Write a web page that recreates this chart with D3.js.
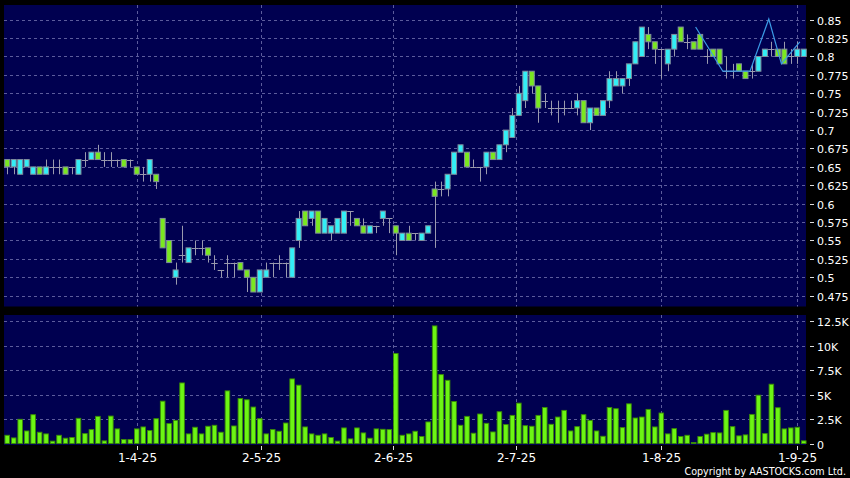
<!DOCTYPE html>
<html><head><meta charset="utf-8">
<script src="https://cdn.jsdelivr.net/npm/d3@7"></script>
<style>html,body{margin:0;padding:0;background:#000;}svg{display:block;}</style>
</head><body>
<svg id="c" width="850" height="478"></svg>
<script>
const openP  = [0.66,0.65,0.64,0.65,0.64,0.65,0.64,0.65,0.65,0.65,0.65,0.64,0.66,0.66,0.67,0.66,0.66,0.66,0.66,0.66,
0.65,0.64,0.64,0.64,0.58,0.55,0.50,0.53,0.52,0.54,0.54,0.54,0.52,0.51,0.52,0.52,0.52,0.51,0.50,0.48,
0.50,0.52,0.52,0.52,0.50,0.55,0.59,0.58,0.59,0.56,0.56,0.56,0.56,0.59,0.58,0.57,0.56,0.57,0.58,0.58,
0.57,0.55,0.56,0.56,0.55,0.56,0.62,0.62,0.62,0.64,0.67,0.67,0.65,0.65,0.65,0.67,0.66,0.68,0.69,0.72,
0.74,0.78,0.76,0.74,0.73,0.73,0.73,0.73,0.73,0.74,0.71,0.73,0.72,0.74,0.76,0.76,0.77,0.79,0.80,0.83,
0.82,0.81,0.79,0.81,0.84,0.82,0.82,0.83,0.80,0.81,0.81,0.78,0.78,0.79,0.78,0.78,0.78,0.80,0.81,0.81,
0.81,0.80,0.80,0.80];
const highP  = [0.66,0.66,0.66,0.66,0.65,0.65,0.66,0.66,0.66,0.65,0.65,0.66,0.67,0.67,0.68,0.67,0.67,0.66,0.66,0.66,
0.65,0.65,0.66,0.64,0.58,0.55,0.52,0.57,0.54,0.55,0.55,0.54,0.53,0.51,0.53,0.52,0.52,0.51,0.50,0.51,
0.52,0.52,0.53,0.52,0.54,0.59,0.59,0.59,0.59,0.58,0.57,0.58,0.59,0.59,0.58,0.58,0.57,0.57,0.59,0.58,
0.57,0.56,0.57,0.56,0.56,0.57,0.63,0.63,0.64,0.67,0.68,0.67,0.66,0.65,0.67,0.67,0.68,0.70,0.73,0.76,
0.78,0.78,0.76,0.75,0.74,0.74,0.74,0.74,0.75,0.74,0.73,0.73,0.74,0.78,0.78,0.77,0.79,0.82,0.84,0.84,
0.82,0.81,0.81,0.83,0.84,0.83,0.82,0.83,0.81,0.81,0.81,0.80,0.79,0.79,0.78,0.79,0.80,0.81,0.82,0.81,
0.82,0.81,0.82,0.81];
const lowP   = [0.64,0.64,0.64,0.65,0.64,0.64,0.64,0.64,0.64,0.64,0.64,0.64,0.65,0.66,0.66,0.65,0.65,0.65,0.65,0.65,
0.64,0.63,0.63,0.62,0.54,0.52,0.49,0.52,0.52,0.53,0.53,0.52,0.51,0.50,0.50,0.50,0.51,0.48,0.48,0.48,
0.50,0.50,0.51,0.50,0.50,0.54,0.57,0.57,0.56,0.56,0.55,0.56,0.56,0.57,0.57,0.56,0.56,0.56,0.57,0.56,
0.53,0.55,0.55,0.55,0.55,0.56,0.54,0.61,0.61,0.64,0.67,0.65,0.65,0.63,0.64,0.66,0.66,0.67,0.69,0.72,
0.73,0.75,0.71,0.73,0.72,0.71,0.72,0.73,0.72,0.71,0.70,0.72,0.72,0.73,0.76,0.75,0.76,0.79,0.80,0.81,
0.79,0.77,0.78,0.80,0.82,0.81,0.81,0.81,0.79,0.80,0.79,0.77,0.77,0.78,0.77,0.77,0.78,0.80,0.80,0.80,
0.79,0.79,0.79,0.80];
const closeP = [0.65,0.66,0.66,0.66,0.65,0.64,0.65,0.65,0.65,0.64,0.65,0.66,0.66,0.67,0.66,0.66,0.66,0.66,0.65,0.66,
0.64,0.64,0.66,0.63,0.54,0.52,0.51,0.53,0.54,0.54,0.54,0.53,0.52,0.51,0.52,0.52,0.51,0.50,0.48,0.51,
0.51,0.52,0.52,0.52,0.54,0.58,0.57,0.59,0.56,0.58,0.57,0.58,0.59,0.59,0.57,0.56,0.57,0.57,0.59,0.58,
0.56,0.56,0.55,0.56,0.56,0.57,0.61,0.62,0.64,0.67,0.68,0.65,0.65,0.65,0.67,0.66,0.68,0.70,0.72,0.75,
0.78,0.76,0.73,0.74,0.73,0.73,0.73,0.73,0.74,0.71,0.73,0.72,0.74,0.77,0.77,0.77,0.79,0.82,0.84,0.82,
0.81,0.81,0.81,0.83,0.82,0.82,0.81,0.81,0.80,0.80,0.79,0.78,0.78,0.78,0.77,0.78,0.80,0.81,0.81,0.80,
0.79,0.80,0.81,0.81];
const volume = [840,570,2470,1280,2940,1150,980,240,840,540,610,2570,1010,1420,2770,270,2800,1490,410,410,
1490,1690,1320,2530,4320,2030,2360,6180,980,1660,980,1760,1860,1150,5370,1790,4590,4460,3720,2530,
980,1420,1250,2090,6590,5950,1690,980,840,980,610,240,1590,470,1590,1080,540,1490,1450,1420,
9190,840,980,1250,710,2200,12000,7030,6450,4290,1860,2770,1050,3010,2060,1180,3240,1930,2870,4120,
1820,1760,2870,3680,1960,2700,3380,1280,1720,2940,2360,1280,740,3680,3550,1620,4050,2600,2700,3480,
1690,3110,980,1520,710,840,100,710,950,1110,1080,3380,1720,780,880,2970,4930,1010,6050,3650,
1490,1590,1660,270];
const dateLabels = ["1-4-25","2-5-25","2-6-25","2-7-25","1-8-25","1-9-25"];
const dateIdx    = [20, 39.2, 59.5, 78.6, 100.9, 122];
const priceTicks = [0.475,0.5,0.525,0.55,0.575,0.6,0.625,0.65,0.675,0.7,0.725,0.75,0.775,0.8,0.825,0.85];
const volTicks   = [0,2500,5000,7500,10000,12500];
const trendIdx   = [106.3,110.5,114.7,117.6,119.55,122.4];
const trendVal   = [0.84,0.78,0.78,0.851,0.79,0.82];

const svg = d3.select("#c");
const n = closeP.length;
const L = 4, R = 806;
const x = d3.scaleLinear().domain([-0.5, n - 0.5]).range([L, R + 1]);
const yP = d3.scaleLinear().domain([0.475, 0.85]).range([295.7, 19.7]);
const yV = d3.scaleLinear().domain([0, 12500]).range([443.5, 321]);
const step = x(1) - x(0);

const font = "'DejaVu Sans', Verdana, sans-serif";
const gridCol = "#5c5c9c";

svg.append("rect").attr("width",850).attr("height",478).attr("fill","#000");
svg.append("rect").attr("x",L).attr("y",5).attr("width",R-L).attr("height",301.5).attr("fill","#000050");
svg.append("rect").attr("x",L).attr("y",315).attr("width",R-L).attr("height",130).attr("fill","#000050");

svg.append("g").selectAll("line").data(priceTicks).join("line")
  .attr("x1",L).attr("x2",R).attr("y1",d=>Math.round(yP(d))+0.5).attr("y2",d=>Math.round(yP(d))+0.5)
  .attr("stroke",gridCol).attr("stroke-dasharray","3,3").attr("stroke-width",1);
svg.append("g").selectAll("line").data(volTicks.slice(1)).join("line")
  .attr("x1",L).attr("x2",R).attr("y1",d=>Math.round(yV(d))+0.5).attr("y2",d=>Math.round(yV(d))+0.5)
  .attr("stroke",gridCol).attr("stroke-dasharray","3,3").attr("stroke-width",1);
svg.append("g").selectAll("line").data(dateIdx).join("line")
  .attr("x1",d=>Math.round(x(d))+0.5).attr("x2",d=>Math.round(x(d))+0.5).attr("y1",5).attr("y2",306.5)
  .attr("stroke",gridCol).attr("stroke-dasharray","3,3");
svg.append("g").selectAll("line").data(dateIdx).join("line")
  .attr("x1",d=>Math.round(x(d))+0.5).attr("x2",d=>Math.round(x(d))+0.5).attr("y1",315).attr("y2",444)
  .attr("stroke",gridCol).attr("stroke-dasharray","3,3");

const ax = svg.append("g").attr("font-family",font).attr("font-size",11).attr("fill","#fff");
priceTicks.forEach(t=>{
  const yy = Math.round(yP(t))+0.5;
  ax.append("line").attr("x1",810).attr("x2",814).attr("y1",yy).attr("y2",yy).attr("stroke","#ddd");
  ax.append("text").attr("x",817).attr("y",yy+4).text(String(t));
});
volTicks.forEach(t=>{
  const yy = Math.round(yV(t))+0.5;
  ax.append("line").attr("x1",810).attr("x2",814).attr("y1",yy).attr("y2",yy).attr("stroke","#ddd");
  ax.append("text").attr("x",817).attr("y",yy+4).text(t===0?"0":(t/1000)+"K");
});
dateIdx.forEach((d,i)=>{
  const xx = Math.round(x(d))+0.5;
  ax.append("line").attr("x1",xx).attr("x2",xx).attr("y1",446).attr("y2",450).attr("stroke","#ddd");
  ax.append("text").attr("x",xx).attr("y",462).attr("text-anchor","middle").attr("font-size",12).text(dateLabels[i]);
});
ax.append("text").attr("x",846).attr("y",475).attr("text-anchor","end").attr("font-size",9.6)
  .text("Copyright by AASTOCKS.com Ltd.");

const bw = 4.6;
svg.append("g").selectAll("rect").data(volume).join("rect")
  .attr("x",(d,i)=>x(i)-bw/2).attr("width",bw)
  .attr("y",d=>yV(d)).attr("height",d=>yV(0)-yV(d))
  .attr("fill","#6cf514").attr("stroke","#3a8c05").attr("stroke-width",0.9);

const idx = d3.range(n);
const cg = svg.append("g");
cg.selectAll("line.w").data(idx).join("line").attr("class","w")
  .attr("x1",i=>Math.round(x(i))+0.5).attr("x2",i=>Math.round(x(i))+0.5)
  .attr("y1",i=>yP(highP[i])).attr("y2",i=>yP(lowP[i]))
  .attr("stroke","#9a9aae").attr("stroke-width",1);
const cw = 5;
cg.selectAll("line.d").data(idx.filter(i=>openP[i]===closeP[i])).join("line").attr("class","d")
  .attr("x1",i=>x(i)-step/2).attr("x2",i=>x(i)+step/2)
  .attr("y1",i=>Math.round(yP(closeP[i]))+0.5).attr("y2",i=>Math.round(yP(closeP[i]))+0.5)
  .attr("stroke","#9a9aae").attr("stroke-width",1);
cg.selectAll("rect").data(idx.filter(i=>openP[i]!==closeP[i])).join("rect")
  .attr("x",i=>x(i)-cw/2).attr("width",cw)
  .attr("y",i=>yP(Math.max(openP[i],closeP[i])))
  .attr("height",i=>Math.abs(yP(openP[i])-yP(closeP[i])))
  .attr("fill",i=>closeP[i]>openP[i]?"#33eef6":"#7ae820")
  .attr("stroke","#7f8c9c").attr("stroke-width",1);

svg.append("path").datum(trendIdx.map((d,i)=>[d,trendVal[i]]))
  .attr("d",d3.line().x(d=>x(d[0])).y(d=>yP(d[1])))
  .attr("fill","none").attr("stroke","#3b9be6").attr("stroke-width",1.2);
</script>
</body></html>
